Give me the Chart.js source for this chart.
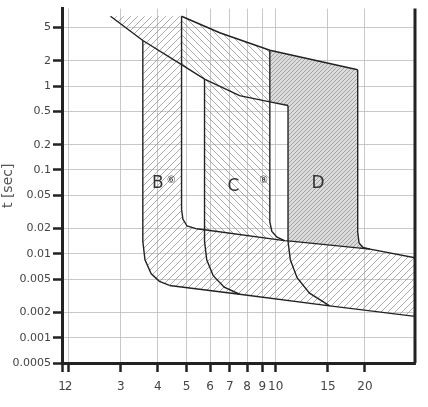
<!DOCTYPE html>
<html>
<head>
<script src="https://cdn.jsdelivr.net/npm/chart.js"></script>
<style>
  body { margin: 0; background: #fff; }
  #wrap { width: 428px; height: 407px; }
</style>
</head>
<body>
<div id="wrap"><canvas id="myChart"></canvas></div>
<script>
// tick positions and labels (the "1" sits on the axis start)
const xTickValues = [1.9, 2, 3, 4, 5, 6, 7, 8, 9, 10, 15, 20];
const xTickLabels = ['1', '2', '3', '4', '5', '6', '7', '8', '9', '10', '15', '20'];
const yTickValues = [0.0005, 0.001, 0.002, 0.005, 0.01, 0.02, 0.05, 0.1, 0.2, 0.5, 1, 2, 5];
const yTickLabels = ['0.0005', '0.001', '0.002', '0.005', '0.01', '0.02', '0.05', '0.1', '0.2', '0.5', '1', '2', '5'];

// curves [I/In, t]
const lowerThermal = [[2.77, 6.81], [3.56, 3.5], [4.81, 1.8], [5.75, 1.21], [7.55, 0.77], [9.55, 0.65], [11, 0.587]];
const upperThermal = [[4.81, 6.81], [6.47, 4.33], [9.55, 2.68], [18.9, 1.57]];
const upperMagnetic = [[5.41, 0.0199], [5.75, 0.0194], [10.7, 0.0144], [11, 0.0143], [20.8, 0.0114], [29.5, 0.009]];
const lowerMagnetic = [[4.38, 0.0042], [7.55, 0.0033], [15.2, 0.0024], [29.5, 0.0018]];
const bLeft = [[3.56, 3.5], [3.56, 0.0141], [3.62, 0.0085], [3.8, 0.0058], [4.05, 0.0047], [4.38, 0.0042]];
const bRight = [[4.81, 6.81], [4.81, 0.034], [4.86, 0.026], [5.02, 0.0215], [5.41, 0.0199]];
const cLeft = [[5.75, 1.21], [5.75, 0.0141], [5.85, 0.0085], [6.15, 0.0055], [6.7, 0.0040], [7.55, 0.0033]];
const cRight = [[9.55, 2.68], [9.55, 0.024], [9.7, 0.0185], [10.1, 0.0158], [10.7, 0.0144]];
const dLeft = [[11, 0.587], [11, 0.0141], [11.2, 0.0085], [11.8, 0.0052], [13, 0.0034], [15.2, 0.0024]];
const dRight = [[18.9, 1.57], [18.9, 0.0183], [19.1, 0.0135], [19.7, 0.0119], [20.8, 0.0114]];

const regionB = [[2.77, 6.81], ...bLeft, [29.5, 0.0018], [29.5, 0.009], [20.8, 0.0114], [11, 0.0143], [5.75, 0.0194], ...bRight.slice().reverse()];
const regionC = [...upperThermal.slice(0, 3), ...cRight, [5.75, 0.0194], [5.75, 1.21], [4.81, 1.8]];
const regionD = [[9.55, 2.68], [18.9, 1.57], ...dRight, [11, 0.0143], [11, 0.587], [9.55, 0.65]];

const bandLabels = [
  { text: 'B', x: 4.0, y: 0.068, size: 17 },
  { text: '⑥', x: 4.45, y: 0.075, size: 10 },
  { text: 'C', x: 7.2, y: 0.064, size: 17 },
  { text: '⑧', x: 9.1, y: 0.075, size: 10 },
  { text: 'D', x: 13.9, y: 0.068, size: 17 }
];

function pts(a) { return a.map(p => ({ x: p[0], y: p[1] })); }

function hatch(dir, bg, gap) {
  const c = document.createElement('canvas');
  c.width = gap; c.height = gap;
  const g = c.getContext('2d');
  if (bg) { g.fillStyle = bg; g.fillRect(0, 0, gap, gap); }
  g.strokeStyle = '#888';
  g.lineWidth = 0.7;
  g.beginPath();
  if (dir > 0) {
    g.moveTo(0, gap); g.lineTo(gap, 0);
    g.moveTo(-1, 1); g.lineTo(1, -1);
    g.moveTo(gap - 1, gap + 1); g.lineTo(gap + 1, gap - 1);
  } else {
    g.moveTo(0, 0); g.lineTo(gap, gap);
    g.moveTo(gap - 1, -1); g.lineTo(gap + 1, 1);
    g.moveTo(-1, gap - 1); g.lineTo(1, gap + 1);
  }
  g.stroke();
  return g.createPattern(c, 'repeat');
}

const regionPlugin = {
  id: 'regions',
  beforeDatasetsDraw(chart) {
    const ctx = chart.ctx, xs = chart.scales.x, ys = chart.scales.y;
    const a = chart.chartArea;
    const fills = [
      [regionB, hatch(1, null, 7)],
      [regionC, hatch(-1, null, 7)],
      [regionD, hatch(1, '#dcdcdc', 4)]
    ];
    ctx.save();
    ctx.beginPath(); ctx.rect(a.left, a.top, a.right - a.left, a.bottom - a.top); ctx.clip();
    fills.forEach(([poly, pat]) => {
      ctx.beginPath();
      poly.forEach((p, i) => {
        const px = xs.getPixelForValue(p[0]), py = ys.getPixelForValue(p[1]);
        if (i === 0) ctx.moveTo(px, py); else ctx.lineTo(px, py);
      });
      ctx.closePath();
      ctx.fillStyle = pat;
      ctx.fill();
    });
    ctx.restore();
  },
  afterDatasetsDraw(chart) {
    const ctx = chart.ctx, xs = chart.scales.x, ys = chart.scales.y;
    const a = chart.chartArea;
    ctx.save();
    ctx.strokeStyle = '#222'; ctx.lineWidth = 3;
    ctx.beginPath(); ctx.moveTo(a.right, a.top); ctx.lineTo(a.right, a.bottom); ctx.stroke();
    ctx.fillStyle = '#333';
    ctx.textAlign = 'center'; ctx.textBaseline = 'middle';
    bandLabels.forEach(l => {
      ctx.font = l.size + 'px "DejaVu Sans", sans-serif';
      ctx.fillText(l.text, xs.getPixelForValue(l.x), ys.getPixelForValue(l.y));
    });
    ctx.restore();
  }
};

const curves = [lowerThermal, upperThermal, upperMagnetic, lowerMagnetic, bLeft, bRight, cLeft, cRight, dLeft, dRight];

new Chart(document.getElementById('myChart'), {
  type: 'scatter',
  data: {
    datasets: curves.map(c => ({
      data: pts(c),
      showLine: true,
      borderColor: '#222',
      borderWidth: 1.4,
      pointRadius: 0,
      tension: 0,
      fill: false
    }))
  },
  options: {
    responsive: true,
    maintainAspectRatio: false,
    animation: false,
    layout: { padding: { top: -8, right: 13, left: 0, bottom: 0 } },
    plugins: { legend: { display: false }, tooltip: { enabled: false } },
    scales: {
      x: {
        type: 'logarithmic',
        min: 1.9, max: 29.5,
        afterBuildTicks: s => { s.ticks = xTickValues.map(v => ({ value: v })); },
        afterFit: s => { s.height = 44; },
        ticks: {
          autoSkip: false, maxRotation: 0, padding: 8,
          color: '#444', font: { size: 12, family: 'Liberation Sans Narrow, DejaVu Sans' },
          callback: (v, i) => xTickLabels[i]
        },
        grid: { color: '#bbb', lineWidth: 0.8, tickColor: '#222', tickWidth: 2.5, tickLength: 9 },
        border: { color: '#222', width: 3 }
      },
      y: {
        type: 'logarithmic',
        min: 0.0005, max: 8.4,
        afterBuildTicks: s => { s.ticks = yTickValues.map(v => ({ value: v })); },
        afterFit: s => { s.width = 62; },
        title: { display: true, text: 't [sec]', color: '#555', font: { size: 14, family: 'DejaVu Sans' }, padding: 0 },
        ticks: {
          autoSkip: false, padding: 2,
          color: '#444', font: { size: 11, family: 'DejaVu Sans' },
          callback: (v, i) => yTickLabels[i]
        },
        grid: { color: '#bbb', lineWidth: 0.8, tickColor: '#222', tickWidth: 2.5, tickLength: 9 },
        border: { color: '#222', width: 3 }
      }
    }
  },
  plugins: [regionPlugin]
});
</script>
</body>
</html>
